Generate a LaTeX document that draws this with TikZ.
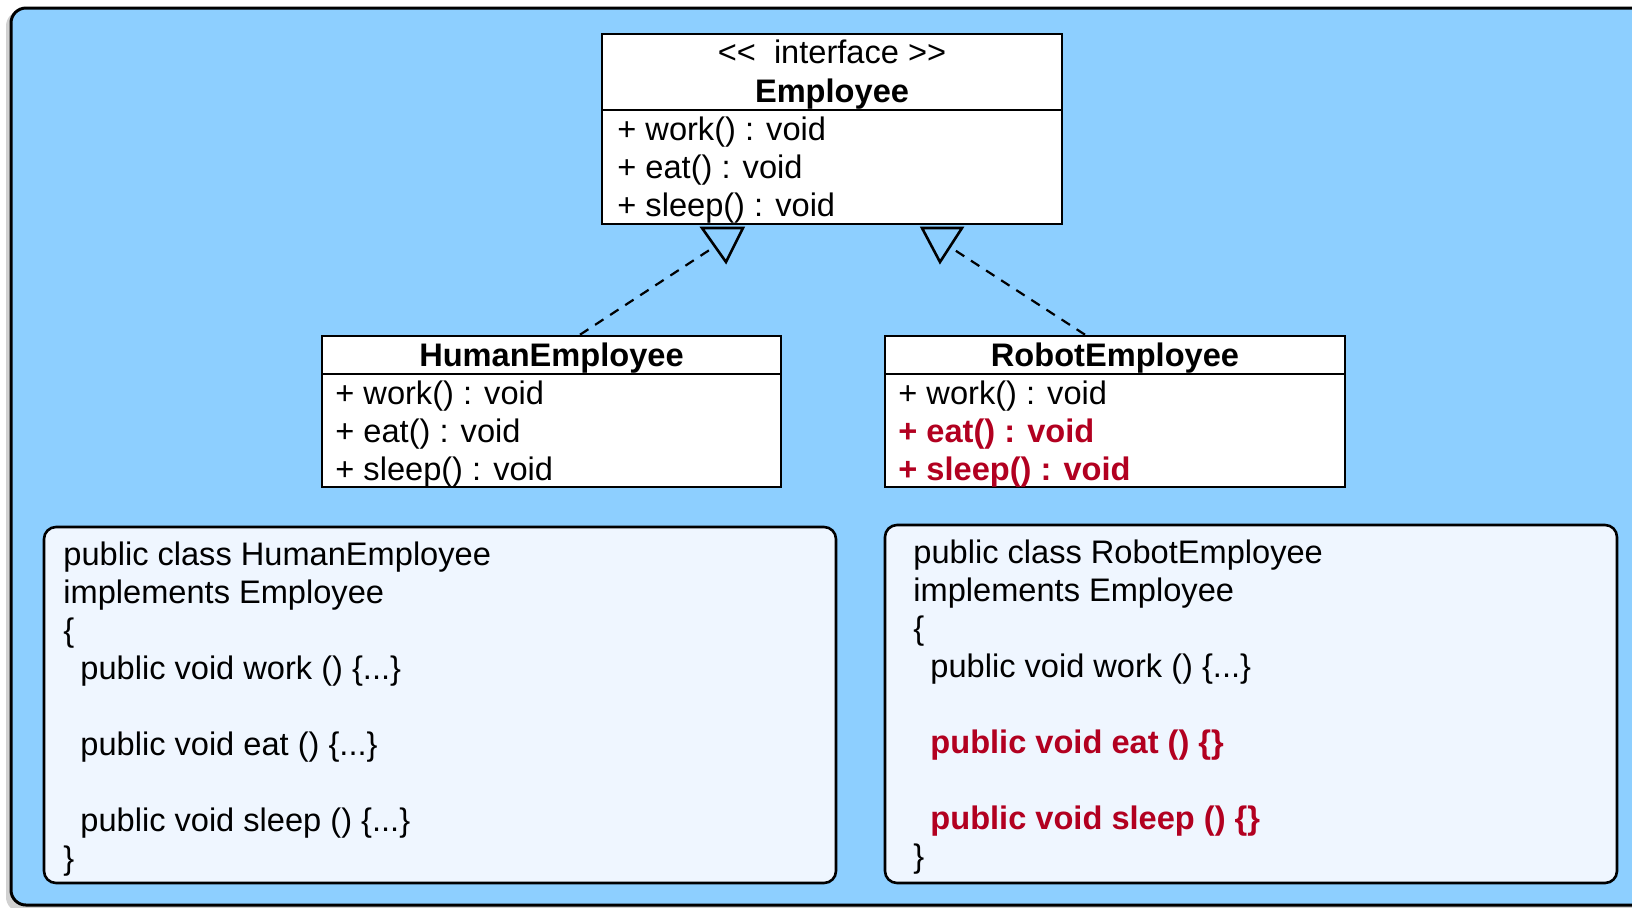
\documentclass[tikz,border=0pt]{standalone}
\usepackage{fontspec}
\setmainfont{Liberation Sans}
\usetikzlibrary{fit}
\definecolor{bgblue}{RGB}{141,207,255}
\definecolor{codefill}{RGB}{239,246,255}
\definecolor{redtxt}{RGB}{178,0,32}
\newcommand{\fsz}{\fontsize{16.3pt}{19.5pt}\selectfont}
\begin{document}
\begin{tikzpicture}[x=0.5pt,y=-0.5pt,
  umlbox/.style={draw=black, fill=white, line width=1.3pt, inner sep=0pt},
  codebox/.style={draw=black, fill=codefill, line width=1.3pt, rounded corners=6pt, inner sep=0pt},
  txt/.style={inner sep=0pt, anchor=base west, font=\fsz},
  ctxt/.style={inner sep=0pt, anchor=base, font=\fsz},
  redb/.style={text=redtxt, font=\fsz\bfseries},
  conn/.style={draw=black, line width=1.1pt, dash pattern=on 5pt off 4pt},
  tri/.style={draw=black, line width=1.3pt, line join=miter}
]
\useasboundingbox (0,0) rectangle (1632,907);
% background
\fill[black!18, rounded corners=7.5pt] (6,11) rectangle (1660,912);
\node[fit={(11,8)(1660,905)}, draw=black, fill=bgblue, line width=1.5pt, rounded corners=7.5pt, inner sep=0pt] (bg) {};

% Employee interface
\node[umlbox, fit={(602,34)(1062,110)}] (emphead) {};
\node[umlbox, fit={(602,110)(1062,224)}] (empbody) {};
\node[ctxt] (empst) at (832,63) {<\kern0pt<\ \ interface >\kern0pt>};
\node[ctxt, font=\fsz\bfseries] (empname) at (832,102) {Employee};
\node[txt] (em1) at (617,140) {+ work() : void};
\node[txt] (em2) at (617,178) {+ eat() : void};
\node[txt] (em3) at (617,216) {+ sleep() : void};

% HumanEmployee
\node[umlbox, fit={(322,336)(781,374)}] (humhead) {};
\node[umlbox, fit={(322,374)(781,487)}] (humbody) {};
\node[ctxt, font=\fsz\bfseries] (humname) at (551.5,366) {HumanEmployee};
\node[txt] (hm1) at (335,404) {+ work() : void};
\node[txt] (hm2) at (335,442) {+ eat() : void};
\node[txt] (hm3) at (335,480) {+ sleep() : void};

% RobotEmployee
\node[umlbox, fit={(885,336)(1345,374)}] (robhead) {};
\node[umlbox, fit={(885,374)(1345,487)}] (robbody) {};
\node[ctxt, font=\fsz\bfseries] (robname) at (1115,366) {RobotEmployee};
\node[txt] (rm1) at (898,404) {+ work() : void};
\node[txt, redb] (rm2) at (898,442) {+ eat() : void};
\node[txt, redb] (rm3) at (898,480) {+ sleep() : void};

% code boxes
\node[codebox, fit={(44,527)(836,883)}] (hcode) {};
\node[codebox, fit={(885,525)(1617,883)}] (rcode) {};

\node[txt] (hc1) at (63,565) {public class HumanEmployee};
\node[txt] (hc2) at (63,603) {implements Employee};
\node[txt] (hc3) at (63,641) {\{};
\node[txt] (hc4) at (80,679) {public void work () \{...\}};
\node[txt] (hc6) at (80,755) {public void eat () \{...\}};
\node[txt] (hc8) at (80,831) {public void sleep () \{...\}};
\node[txt] (hc9) at (63,869) {\}};

\node[txt] (rc1) at (913,563) {public class RobotEmployee};
\node[txt] (rc2) at (913,601) {implements Employee};
\node[txt] (rc3) at (913,639) {\{};
\node[txt] (rc4) at (930,677) {public void work () \{...\}};
\node[txt, redb] (rc6) at (930,753) {public void eat () \{\}};
\node[txt, redb] (rc8) at (930,829) {public void sleep () \{\}};
\node[txt] (rc9) at (913,867) {\}};

% realization connectors
\coordinate (la1) at (702,228);
\coordinate (la2) at (743,228);
\coordinate (la3) at (726,262);
\coordinate (lend) at (714,247);
\coordinate (hstart) at (humhead.north -| 580,0);
\draw[tri] (la1) -- (la2) -- (la3) -- cycle;
\draw[conn] (hstart) -- (lend);

\coordinate (ra1) at (922,228);
\coordinate (ra2) at (962,228);
\coordinate (ra3) at (940,262);
\coordinate (rend) at (950,247);
\coordinate (rstart) at (robhead.north -| 1085,0);
\draw[tri] (ra1) -- (ra2) -- (ra3) -- cycle;
\draw[conn] (rstart) -- (rend);
\end{tikzpicture}
\end{document}
